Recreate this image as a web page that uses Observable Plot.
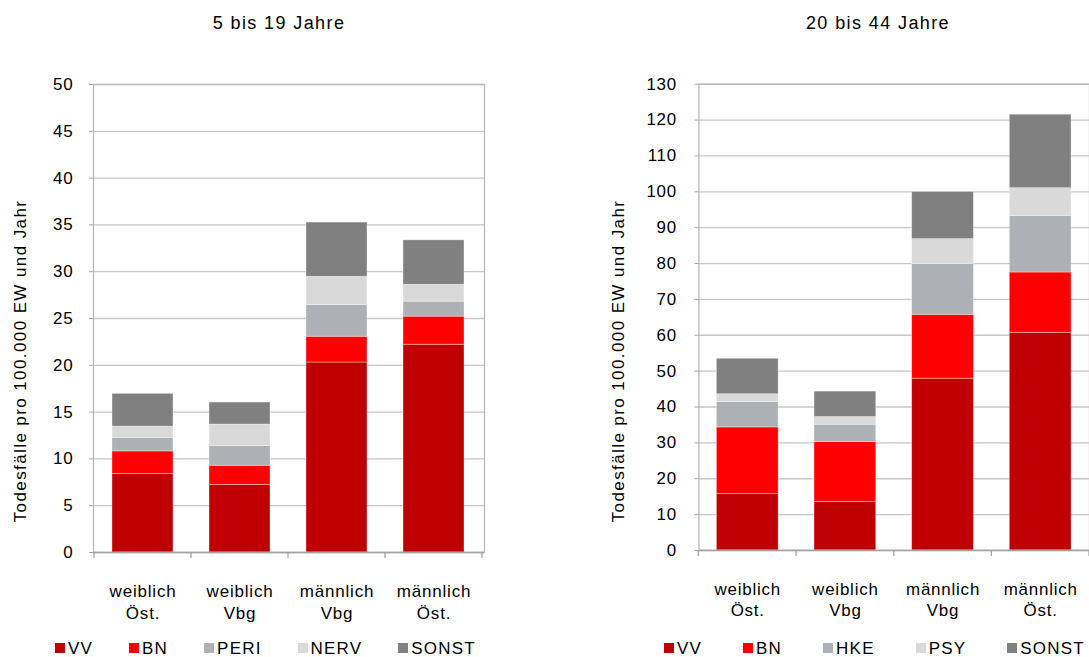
<!DOCTYPE html>
<html>
<head>
<meta charset="utf-8">
<script src="https://cdn.jsdelivr.net/npm/d3@7"></script>
<script src="https://cdn.jsdelivr.net/npm/@observablehq/plot@0.6"></script>
<style>
  body { margin: 0; background: #fff; font-family: "Liberation Sans", Arial, sans-serif; color: #000; }
  #root { position: relative; width: 1089px; height: 657px; overflow: hidden; }
  .panel { position: absolute; top: 0; }
  .title { position: absolute; top: 14px; font-size: 18px; line-height: 18px; letter-spacing: 1.4px;
           transform: translateX(-50%); white-space: nowrap; }
  .ylabel { position: absolute; font-size: 17px; line-height: 17px; letter-spacing: 1.4px; white-space: nowrap;
            transform: translate(-50%, -50%) rotate(-90deg); }
  .legend { position: absolute; top: 640px; display: flex; align-items: center; font-size: 17px;
            line-height: 17px; letter-spacing: 1.2px; white-space: nowrap; }
  .legend .item { display: flex; align-items: center; }
  .legend .sw { width: 10px; height: 10px; margin-right: 3px; margin-top: -2px; }
</style>
</head>
<body>
<div id="root"></div>
<script>
// Age groups and the four population groups shown as bars
const titles = ["5 bis 19 Jahre", "20 bis 44 Jahre"];
const yLabel = "Todesfälle pro 100.000 EW und Jahr";
const categories = ["weiblich\nÖst.", "weiblich\nVbg", "männlich\nVbg", "männlich\nÖst."];

// Causes of death (stacked from bottom to top) and their colours
const seriesYoung = ["VV", "BN", "PERI", "NERV", "SONST"];
const seriesAdult = ["VV", "BN", "HKE", "PSY", "SONST"];
const seriesColors = ["#c00000", "#ff0000", "#adb0b4", "#d9d9d9", "#808080"];

// 5 bis 19 Jahre
const youngVV    = [8.4, 7.23, 20.3, 22.2];
const youngBN    = [2.4, 2.04, 2.75, 3.0];
const youngPERI  = [1.45, 2.1, 3.4, 1.6];
const youngNERV  = [1.2, 2.3, 3.0, 1.8];
const youngSONST = [3.5, 2.35, 5.8, 4.75];

// 20 bis 44 Jahre
const adultVV    = [15.7, 13.5, 47.9, 60.7];
const adultBN    = [18.6, 16.75, 17.8, 16.8];
const adultHKE   = [7.1, 4.8, 14.15, 15.8];
const adultPSY   = [2.15, 2.15, 6.95, 7.7];
const adultSONST = [9.9, 7.1, 13.15, 20.5];

// Y axis ticks
const youngTicks = [0, 5, 10, 15, 20, 25, 30, 35, 40, 45, 50];
const adultTicks = [0, 10, 20, 30, 40, 50, 60, 70, 80, 90, 100, 110, 120, 130];

function toRows(series, columns) {
  const rows = [];
  series.forEach((s, i) => {
    columns[i].forEach((v, j) => rows.push({cat: categories[j], series: s, value: v}));
  });
  return rows;
}

const root = document.getElementById("root");

function panel({left, width, marginLeft, marginRight, series, columns, ticks, tickPadding,
                title, titleX, ylabelX, legendX, legendGap}) {
  const rows = toRows(series, columns);
  const chart = Plot.plot({
    width, height: 625,
    marginTop: 84, marginBottom: 73, marginLeft, marginRight,
    style: {fontFamily: "Liberation Sans, Arial, sans-serif", fontSize: "17px", color: "#000",
            background: "transparent", letterSpacing: "0.8px", overflow: "visible"},
    x: {domain: categories, paddingInner: 0.371, paddingOuter: 0.1855, label: null},
    y: {domain: [0, ticks[ticks.length - 1]], label: null},
    color: {domain: series, range: seriesColors},
    marks: [
      Plot.ruleY(ticks, {stroke: "#c6c6c6", strokeWidth: 1.3}),
      Plot.barY(rows, {x: "cat", y: "value", fill: "series", stroke: "#fff", strokeOpacity: 0.45, strokeWidth: 0.8}),
      Plot.frame({stroke: "#b8b8b8", strokeWidth: 1.3}),
      Plot.ruleY([0], {stroke: "#a3a3a3", strokeWidth: 1.6}),
      Plot.axisY(ticks, {tickSize: 4, tickPadding, stroke: "#a3a3a3", label: null}),
      Plot.axisX({tickSize: 0, tickPadding: 29, lineHeight: 1.28, label: null})
    ]
  });

  // Category boundary ticks below the baseline, derived from the band scale
  const xs = chart.scale("x");
  const ys = chart.scale("y");
  const step = xs.apply(categories[1]) - xs.apply(categories[0]);
  const bw = xs.bandwidth ?? step * (1 - xs.paddingInner);
  const y0 = ys.apply(0);
  const bounds = categories.map(c => xs.apply(c) + bw / 2 - step / 2);
  bounds.push(xs.apply(categories[categories.length - 1]) + bw / 2 + step / 2);
  d3.select(chart).append("g")
    .attr("stroke", "#a3a3a3").attr("stroke-width", 1.3)
    .selectAll("line").data(bounds).join("line")
    .attr("x1", d => d).attr("x2", d => d)
    .attr("y1", y0).attr("y2", y0 + 6);

  const wrap = document.createElement("div");
  wrap.className = "panel";
  wrap.style.left = left + "px";
  wrap.appendChild(chart);
  root.appendChild(wrap);

  const t = document.createElement("div");
  t.className = "title";
  t.style.left = titleX + "px";
  t.textContent = title;
  root.appendChild(t);

  const yl = document.createElement("div");
  yl.className = "ylabel";
  yl.style.left = ylabelX + "px";
  yl.style.top = "361px";
  yl.textContent = yLabel;
  root.appendChild(yl);

  const lg = d3.select(root).append("div").attr("class", "legend")
    .style("left", legendX + "px").style("gap", legendGap + "px");
  const items = lg.selectAll(".item").data(series).join("div").attr("class", "item");
  items.append("div").attr("class", "sw").style("background", (d, i) => seriesColors[i]);
  items.append("span").text(d => d);
}

panel({left: 0, width: 545, marginLeft: 93, marginRight: 61,
       series: seriesYoung, columns: [youngVV, youngBN, youngPERI, youngNERV, youngSONST],
       ticks: youngTicks, tickPadding: 16, title: titles[0], titleX: 279, ylabelX: 20,
       legendX: 55, legendGap: 36});

panel({left: 545, width: 546, marginLeft: 154, marginRight: 0,
       series: seriesAdult, columns: [adultVV, adultBN, adultHKE, adultPSY, adultSONST],
       ticks: adultTicks, tickPadding: 18, title: titles[1], titleX: 878, ylabelX: 618,
       legendX: 664, legendGap: 41});
</script>
</body>
</html>
